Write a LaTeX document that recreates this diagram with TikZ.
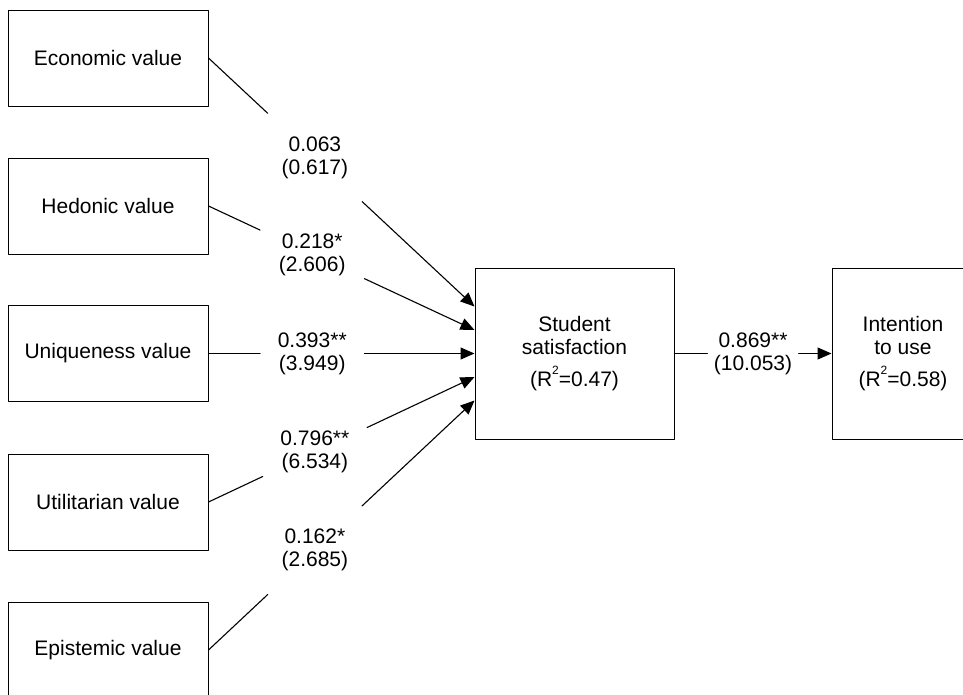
\documentclass[tikz,border=0pt]{standalone}
\usepackage{fontspec}
\setmainfont{Liberation Sans}
\usetikzlibrary{arrows.meta}
\newcommand{\rsq}{R\raisebox{12pt}{\fontsize{12}{12}\selectfont 2}}

\begin{document}
\begin{tikzpicture}[line cap=round,line join=round,>={Triangle[length=14pt,width=12pt]},x=1pt,y=-1pt,
  font=\fontsize{21}{23}\selectfont,
  valbox/.style={draw,line width=1pt,minimum width=200pt,minimum height=96pt,inner sep=0pt},
  bigbox/.style={draw,line width=1pt,minimum height=171pt,inner sep=0pt,align=center},
  coef/.style={minimum width=104pt,minimum height=88pt,inner sep=0pt,align=center},
  outcoef/.style={minimum width=91pt,minimum height=60pt,inner sep=0pt,align=center},
  path/.style={line width=1.1pt}]
\useasboundingbox (0,0) rectangle (963,694);
\clip (0,0) rectangle (963,694);
% value boxes
\node[valbox] (eco) at (108,58) {Economic value};
\node[valbox] (hed) at (108,206) {Hedonic value};
\node[valbox] (uni) at (108,353.5) {Uniqueness value};
\node[valbox] (uti) at (108,502) {Utilitarian value};
\node[valbox] (epi) at (108,650) {Epistemic value};
\node[bigbox,minimum width=199pt] (sat) at (574.5,353.5) {Student\\satisfaction\\[9pt](\rsq=0.47)};
\node[bigbox,minimum width=142pt] (int) at (903,353.5) {Intention\\to use\\[9pt](\rsq=0.58)};
\coordinate (s1) at ([yshift=47pt]sat.west);
\coordinate (s2) at ([yshift=23.5pt]sat.west);
\coordinate (s3) at (sat.west);
\coordinate (s4) at ([yshift=-23.5pt]sat.west);
\coordinate (s5) at ([yshift=-47pt]sat.west);
% coefficients
\path (eco.east) -- (s1) node[coef,pos=0.4] (c1) {0.063\\(0.617)};
\path (hed.east) -- (s2) node[coef,pos=0.39] (c2) {0.218*\\(2.606)};
\path (uni.east) -- (s3) node[coef,pos=0.39] (c3) {0.393**\\(3.949)};
\path (uti.east) -- (s4) node[coef,pos=0.4] (c4) {0.796**\\(6.534)};
\path (epi.east) -- (s5) node[coef,pos=0.4] (c5) {0.162*\\(2.685)};
\path (sat) -- (int) node[outcoef,pos=0.5] (c6) {0.869**\\(10.053)};
\foreach \a/\c/\s in {eco/c1/s1,hed/c2/s2,uni/c3/s3,uti/c4/s4,epi/c5/s5}{
  \draw[path] (\a.east) -- (\c);
  \draw[path,->] (\c) -- (\s);
}
\draw[path] (sat.east) -- (c6);
\draw[path,->] (c6) -- (int.west);
\end{tikzpicture}
\end{document}
